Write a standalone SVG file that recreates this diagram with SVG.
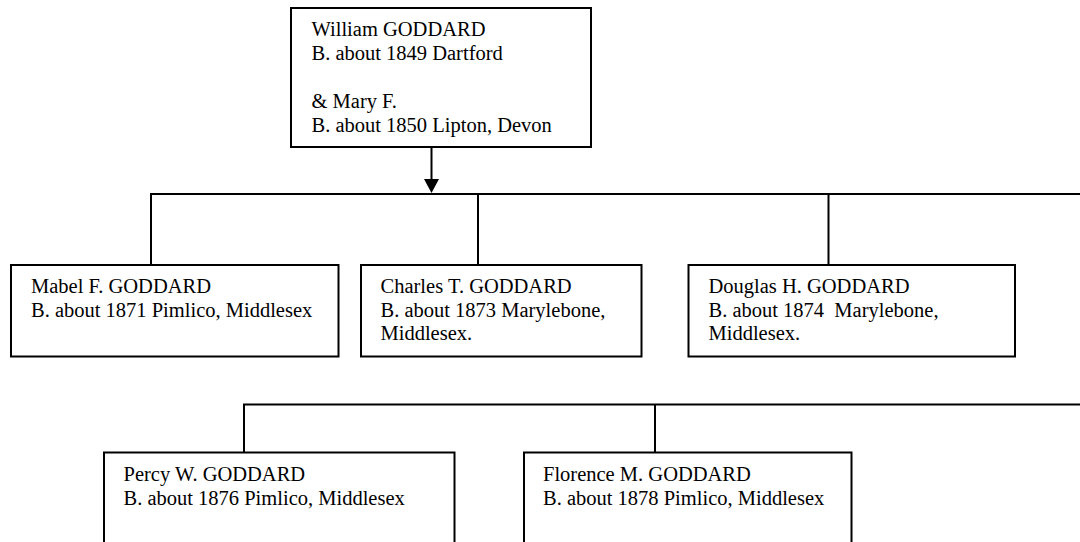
<svg xmlns="http://www.w3.org/2000/svg" width="1080" height="542" viewBox="0 0 1080 542">
<style>
.box{fill:#fff;stroke:#000;stroke-width:2}
.ln{fill:none;stroke:#000;stroke-width:2}
text{font-family:"Liberation Serif","Times New Roman",serif;font-size:20.5px;fill:#000}
</style>
<rect width="1080" height="542" fill="#fff"/>
<g id="connectors">
<line class="ln" x1="431.5" y1="147" x2="431.5" y2="180"/>
<polygon points="424,179 439,179 431.5,193" fill="#000"/>
<polyline class="ln" points="151,265 151,194 1080,194"/>
<line class="ln" x1="478" y1="194" x2="478" y2="265"/>
<line class="ln" x1="828.5" y1="194" x2="828.5" y2="265"/>
<polyline class="ln" points="244,452 244,404.5 1080,404.5"/>
<line class="ln" x1="655" y1="404.5" x2="655" y2="452"/>
</g>
<g id="parents">
<rect class="box" x="291" y="8" width="300" height="139"/>
<text x="311.5" y="36">William GODDARD</text>
<text x="311.5" y="60">B. about 1849 Dartford</text>
<text x="311.5" y="108">&amp; Mary F.</text>
<text x="311.5" y="132">B. about 1850 Lipton, Devon</text>
</g>
<g id="mabel">
<rect class="box" x="11" y="265" width="327.5" height="91.5"/>
<text x="31" y="293">Mabel F. GODDARD</text>
<text x="31" y="317">B. about 1871 Pimlico, Middlesex</text>
</g>
<g id="charles">
<rect class="box" x="361" y="265" width="280.5" height="91.5"/>
<text x="380.5" y="293">Charles T. GODDARD</text>
<text x="380.5" y="316.5">B. about 1873 Marylebone,</text>
<text x="380.5" y="340">Middlesex.</text>
</g>
<g id="douglas">
<rect class="box" x="688.5" y="265" width="326.5" height="91.5"/>
<text x="708.5" y="293">Douglas H. GODDARD</text>
<text x="708.5" y="316.5" xml:space="preserve">B. about 1874  Marylebone,</text>
<text x="708.5" y="340">Middlesex.</text>
</g>
<g id="percy">
<rect class="box" x="104" y="452.5" width="350.5" height="110"/>
<text x="123.5" y="481">Percy W. GODDARD</text>
<text x="123.5" y="505">B. about 1876 Pimlico, Middlesex</text>
</g>
<g id="florence">
<rect class="box" x="524" y="452.5" width="327.5" height="110"/>
<text x="543" y="481">Florence M. GODDARD</text>
<text x="543" y="505">B. about 1878 Pimlico, Middlesex</text>
</g>
</svg>
